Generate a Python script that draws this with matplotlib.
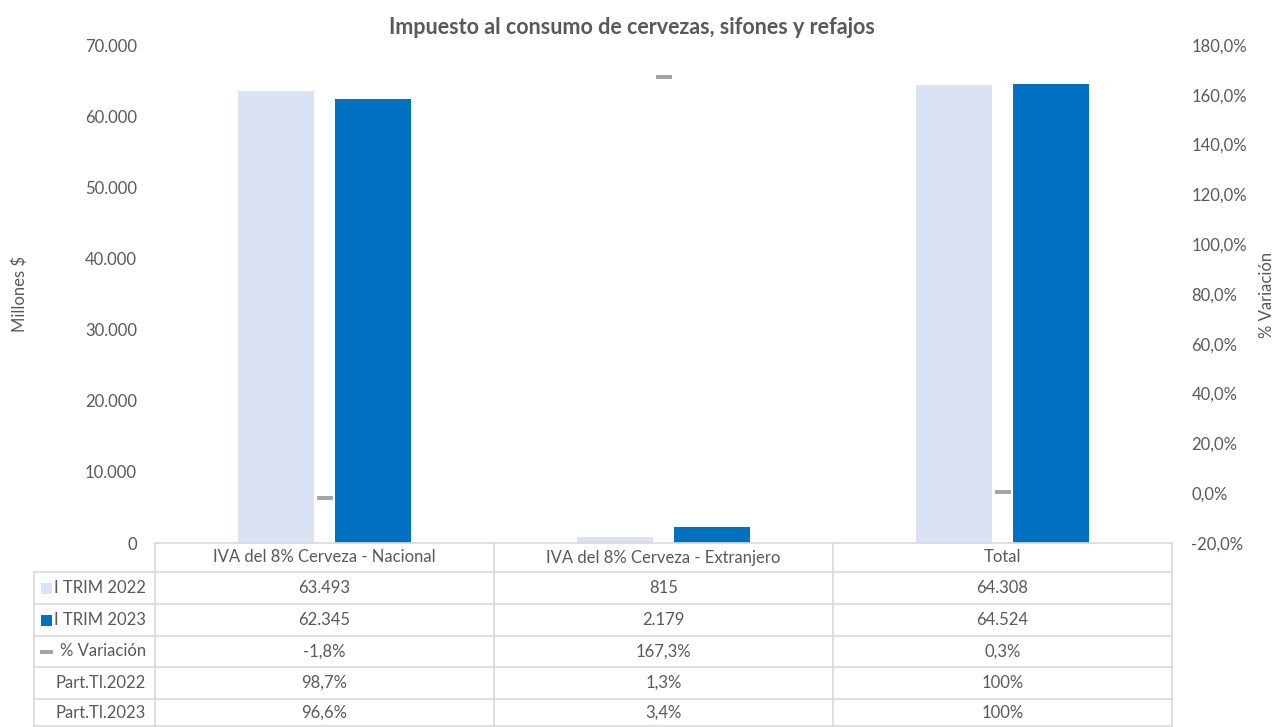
import matplotlib
matplotlib.use("Agg")
import matplotlib.pyplot as plt
from matplotlib.patches import Rectangle
from matplotlib.lines import Line2D

plt.rcParams['font.family'] = ['Lato', 'DejaVu Sans']

# datos
categorias = ["IVA del 8% Cerveza - Nacional", "IVA del 8% Cerveza - Extranjero", "Total"]
trim_2022 = [63493, 815, 64308]
trim_2023 = [62345, 2179, 64524]
variacion = [-1.8, 167.3, 0.3]
part_2022 = [98.7, 1.3, 100]
part_2023 = [96.6, 3.4, 100]

C22 = "#dae3f3"
C23 = "#0070c0"
CVAR = "#a5a5a5"
TXT = "#595959"
GRID = "#d9d9d9"

W, H = 1275, 727


def fx(px):
    return px / W


def fy(py):
    return 1 - py / H


def miles(v):
    return f"{v:,.0f}".replace(",", ".")


def pct(v):
    if v == 100:
        return "100%"
    return f"{v:.1f}%".replace(".", ",")


fig = plt.figure(figsize=(W / 100, H / 100), dpi=100)

L, R, T, B = 155, 1172, 45, 543
ax = fig.add_axes([fx(L), fy(B), (R - L) / W, (B - T) / H])
x = list(range(len(categorias)))
bw = 0.224
off = 0.142
ax.bar([i - off for i in x], trim_2022, width=bw, color=C22)
ax.bar([i + off for i in x], trim_2023, width=bw, color=C23)
ax.set_xlim(-0.5, 2.5)
ax.set_ylim(0, 70000)
ax.set_yticks(range(0, 70001, 10000))
ax.set_yticklabels([miles(v) for v in range(0, 70001, 10000)])
ax.set_xticks([])
ax.tick_params(axis='y', length=0, pad=13, labelsize=12, labelcolor=TXT)
for s in ax.spines.values():
    s.set_visible(False)

ax2 = ax.twinx()
ax2.plot(x, variacion, ls='none', marker='_', markersize=11.5,
         markeredgewidth=2.9, color=CVAR)
ax2.set_ylim(-20, 180)
ax2.set_yticks(range(-20, 181, 20))
ax2.set_yticklabels([f"{v:.1f}%".replace(".", ",") for v in range(-20, 181, 20)])
ax2.tick_params(axis='y', length=0, pad=14, labelsize=12, labelcolor=TXT)
for s in ax2.spines.values():
    s.set_visible(False)

fig.text(fx(632), fy(27), "Impuesto al consumo de cervezas, sifones y refajos",
         ha='center', va='center', fontsize=15.5, fontweight='bold', color=TXT)
fig.text(fx(20), fy(294), "Millones $", rotation=90, ha='center', va='center',
         fontsize=12, color=TXT)
fig.text(fx(1267), fy(295), "% Variación", rotation=90, ha='center', va='center',
         fontsize=12, color=TXT)

# tabla de datos
rows_y = [543, 572, 604, 636, 667, 699, 726]
col_w = (R - L) / 3
cols_x = [L + i * col_w for i in range(4)]
LX = 34


def hline(y, x0, x1):
    fig.add_artist(Line2D([fx(x0), fx(x1)], [fy(y), fy(y)], color=GRID, lw=1.2))


def vline(xp, y0, y1):
    fig.add_artist(Line2D([fx(xp), fx(xp)], [fy(y0), fy(y1)], color=GRID, lw=1.2))


hline(rows_y[0], L, R)
for y in rows_y[1:]:
    hline(y, LX, R)
vline(LX, rows_y[1], rows_y[-1])
for xp in cols_x:
    vline(xp, rows_y[0], rows_y[-1])

centers_y = [(rows_y[k] + rows_y[k + 1]) / 2 for k in range(len(rows_y) - 1)]
centers_x = [(cols_x[k] + cols_x[k + 1]) / 2 for k in range(3)]

for cx, cat in zip(centers_x, categorias):
    fig.text(fx(cx), fy(centers_y[0]), cat, ha='center', va='center',
             fontsize=12, color=TXT)

filas = [
    ("I TRIM 2022", [miles(v) for v in trim_2022]),
    ("I TRIM 2023", [miles(v) for v in trim_2023]),
    ("% Variación", [pct(v) for v in variacion]),
    ("Part.Tl.2022", [pct(v) for v in part_2022]),
    ("Part.Tl.2023", [pct(v) for v in part_2023]),
]
for k, (nombre, vals) in enumerate(filas):
    cy = centers_y[k + 1]
    fig.text(fx(146), fy(cy), nombre, ha='right', va='center', fontsize=12, color=TXT)
    for cx, v in zip(centers_x, vals):
        fig.text(fx(cx), fy(cy), v, ha='center', va='center', fontsize=12, color=TXT)

# claves de leyenda
for k, c in enumerate([C22, C23]):
    cy = centers_y[k + 1]
    fig.add_artist(Rectangle((fx(41), fy(cy + 5.5)), 11 / W, 11 / H,
                             facecolor=c, edgecolor='none'))
cy = centers_y[3]
fig.add_artist(Rectangle((fx(40), fy(cy + 2)), 13 / W, 4 / H,
                         facecolor=CVAR, edgecolor='none'))

fig.savefig("out.png", dpi=100)
